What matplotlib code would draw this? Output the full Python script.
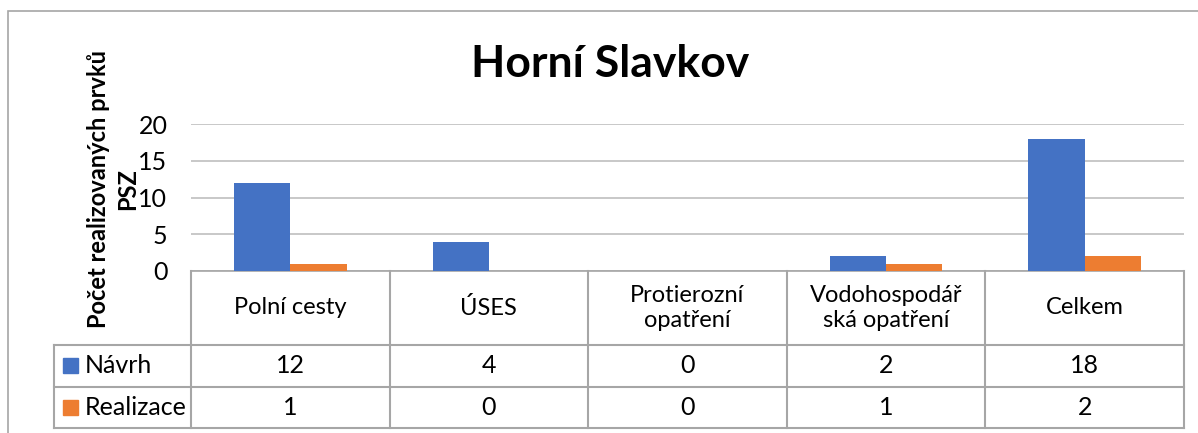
import numpy as np
import matplotlib
matplotlib.use("Agg")
import matplotlib.pyplot as plt
from matplotlib.patches import Rectangle

plt.rcParams['font.family'] = ['Lato', 'DejaVu Sans']

title = "Horní Slavkov"
ylabel = "Počet realizovaných prvků\nPSZ"
categories = ["Polní cesty", "ÚSES", "Protierozní\nopatření",
              "Vodohospodář\nská opatření", "Celkem"]
series_names = ["Návrh", "Realizace"]
navrh = [12, 4, 0, 2, 18]
realizace = [1, 0, 0, 1, 2]
colors = ["#4472C4", "#ED7D31"]
yticks = [0, 5, 10, 15, 20]

W, H = 1198, 433
fig = plt.figure(figsize=(W / 100, H / 100), dpi=100)

def box(x0, y0, x1, y1):
    # pixel box (top-left origin) -> figure fraction
    return [x0 / W, 1 - y1 / H, (x1 - x0) / W, (y1 - y0) / H]

# outer chart frame
fig.patches.append(Rectangle((8 / W, -0.1), 1.2, 1 - 11 / H + 0.1,
                             transform=fig.transFigure, fill=False,
                             edgecolor="#a6a6a6", lw=1.2))

# plot area
ax = fig.add_axes(box(191, 124, 1184, 271))
x = np.arange(len(categories))
bw = 0.283
ax.bar(x - bw / 2, navrh, bw, color=colors[0], zorder=3)
ax.bar(x + bw / 2, realizace, bw, color=colors[1], zorder=3)
ax.set_xlim(-0.5, len(categories) - 0.5)
ax.set_ylim(0, 20)
ax.set_yticks(yticks)
ax.set_xticks([])
ax.grid(axis="y", color="#bfbfbf", lw=1.2, zorder=0)
for s in ["left", "right", "top"]:
    ax.spines[s].set_visible(False)
ax.spines["bottom"].set_color("#a6a6a6")
ax.spines["bottom"].set_linewidth(1.2)
ax.tick_params(axis="y", length=0, pad=17, labelsize=18)

fig.text(610 / W, 1 - 77 / H, title, ha="center", va="baseline",
         fontsize=32, fontweight="bold")
fig.text(113 / W, 1 - 189 / H, ylabel, ha="center", va="center",
         rotation=90, fontsize=17, fontweight="bold", multialignment="center",
         linespacing=1.3)

# data table underneath
leg_w = 137 / 198.6
tab = fig.add_axes(box(54, 271, 1184, 428))
tab.set_xlim(-0.5 - leg_w, len(categories) - 0.5)
tab.set_ylim(428, 271)
tab.axis("off")
lc = "#a6a6a6"
xl = -0.5 - leg_w
xr = len(categories) - 0.5
for yy in [345, 387, 428]:
    tab.plot([xl, xr], [yy, yy], color=lc, lw=1.5, clip_on=False)
for b in np.arange(len(categories) + 1) - 0.5:
    tab.plot([b, b], [271, 428], color=lc, lw=1.5, clip_on=False)
tab.plot([xl, xl], [345, 428], color=lc, lw=1.5, clip_on=False)

for i, c in enumerate(categories):
    tab.text(i, 308, c, ha="center", va="center", fontsize=17, linespacing=1.25)

rows_y = [366, 407.5]
for r, (name, vals) in enumerate(zip(series_names, [navrh, realizace])):
    y = rows_y[r]
    tab.add_patch(Rectangle((xl + 9 / 198.6, y - 7.5), 15 / 198.6, 15,
                            color=colors[r], clip_on=False))
    tab.text(xl + 31 / 198.6, y, name, ha="left", va="center", fontsize=18)
    for i, v in enumerate(vals):
        tab.text(i, y, str(v), ha="center", va="center", fontsize=18)

fig.savefig("out.png", dpi=100)
